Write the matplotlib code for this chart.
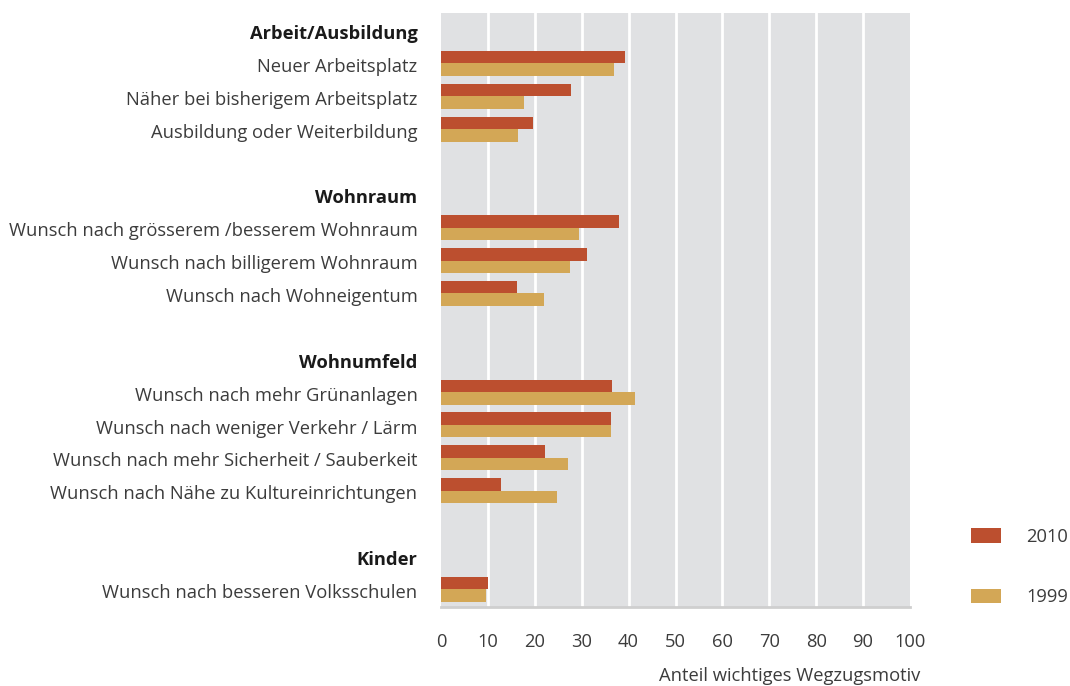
import matplotlib
matplotlib.use("Agg")
import matplotlib.pyplot as plt
import numpy as np

plt.rcParams['font.family'] = ['Open Sans', 'DejaVu Sans']

groups = ["Arbeit/Ausbildung", "Wohnraum", "Wohnumfeld", "Kinder"]
items = [
    ["Neuer Arbeitsplatz", "Näher bei bisherigem Arbeitsplatz", "Ausbildung oder Weiterbildung"],
    ["Wunsch nach grösserem /besserem Wohnraum", "Wunsch nach billigerem Wohnraum", "Wunsch nach Wohneigentum"],
    ["Wunsch nach mehr Grünanlagen", "Wunsch nach weniger Verkehr / Lärm",
     "Wunsch nach mehr Sicherheit / Sauberkeit", "Wunsch nach Nähe zu Kultureinrichtungen"],
    ["Wunsch nach besseren Volksschulen"],
]
values_2010 = [
    [39.3, 27.7, 19.7],
    [37.9, 31.1, 16.1],
    [36.5, 36.2, 22.2, 12.7],
    [10.0],
]
values_1999 = [
    [36.8, 17.7, 16.5],
    [29.5, 27.4, 21.9],
    [41.4, 36.2, 27.1, 24.7],
    [9.5],
]
series_names = ["2010", "1999"]
colors = ["#bc4f2f", "#d3a756"]
xticks = [0, 10, 20, 30, 40, 50, 60, 70, 80, 90, 100]
xlabel = "Anteil wichtiges Wegzugsmotiv"

# Build row positions
label_pos, label_txt, label_bold = [], [], []
bar_pos, v10, v99 = [], [], []
row = 0
for gi, g in enumerate(groups):
    label_pos.append(row); label_txt.append(g); label_bold.append(True)
    row += 1
    for it, a, b in zip(items[gi], values_2010[gi], values_1999[gi]):
        label_pos.append(row); label_txt.append(it); label_bold.append(False)
        bar_pos.append(row); v10.append(a); v99.append(b)
        row += 1
    row += 1
last_row = row - 2

FS = 13.2
TXT = "#3c3c3c"
fig = plt.figure(figsize=(10.7, 6.86), dpi=100)
ax = fig.add_axes([441/1070, 1-607/686, (910-441)/1070, (607-13)/686])
ax.set_facecolor("#e0e1e3")

h = 0.38
bp = np.array(bar_pos)
b1 = ax.barh(bp - h/2 - 0.05, v10, height=h, color=colors[0], label=series_names[0], zorder=3)
b2 = ax.barh(bp + h/2 - 0.05, v99, height=h, color=colors[1], label=series_names[1], zorder=3)

ax.set_xlim(0, 100)
ax.set_ylim(last_row + 0.49, -0.58)
ax.set_xticks(xticks)
ax.set_xticklabels([str(t) for t in xticks], fontsize=FS, color=TXT)
ax.tick_params(axis="x", length=0, pad=19)
ax.set_yticks(label_pos)
ax.set_yticklabels(label_txt, fontsize=FS, color=TXT)
for t, bold in zip(ax.get_yticklabels(), label_bold):
    if bold:
        t.set_fontweight("bold")
        t.set_color("#1a1a1a")
ax.tick_params(axis="y", length=0, pad=17)

for x in xticks[1:-1]:
    ax.axvline(x, color="white", lw=2, zorder=1)
for s in ["top", "right", "left"]:
    ax.spines[s].set_visible(False)
ax.spines["bottom"].set_color("#cfcfcf")
ax.spines["bottom"].set_linewidth(2)

fig.text(920/1070, 1-676/686, xlabel, ha="right", va="center", fontsize=FS, color=TXT)

fig.legend(handles=[b1, b2], labels=series_names, loc="center left",
           bbox_to_anchor=(965/1070, 1-567/686), frameon=False, fontsize=FS,
           handlelength=1.67, handleheight=0.83, labelspacing=2.3, handletextpad=1.35,
           labelcolor=TXT, borderaxespad=0, borderpad=0.3)

fig.savefig("out.png", dpi=100, facecolor="white")
